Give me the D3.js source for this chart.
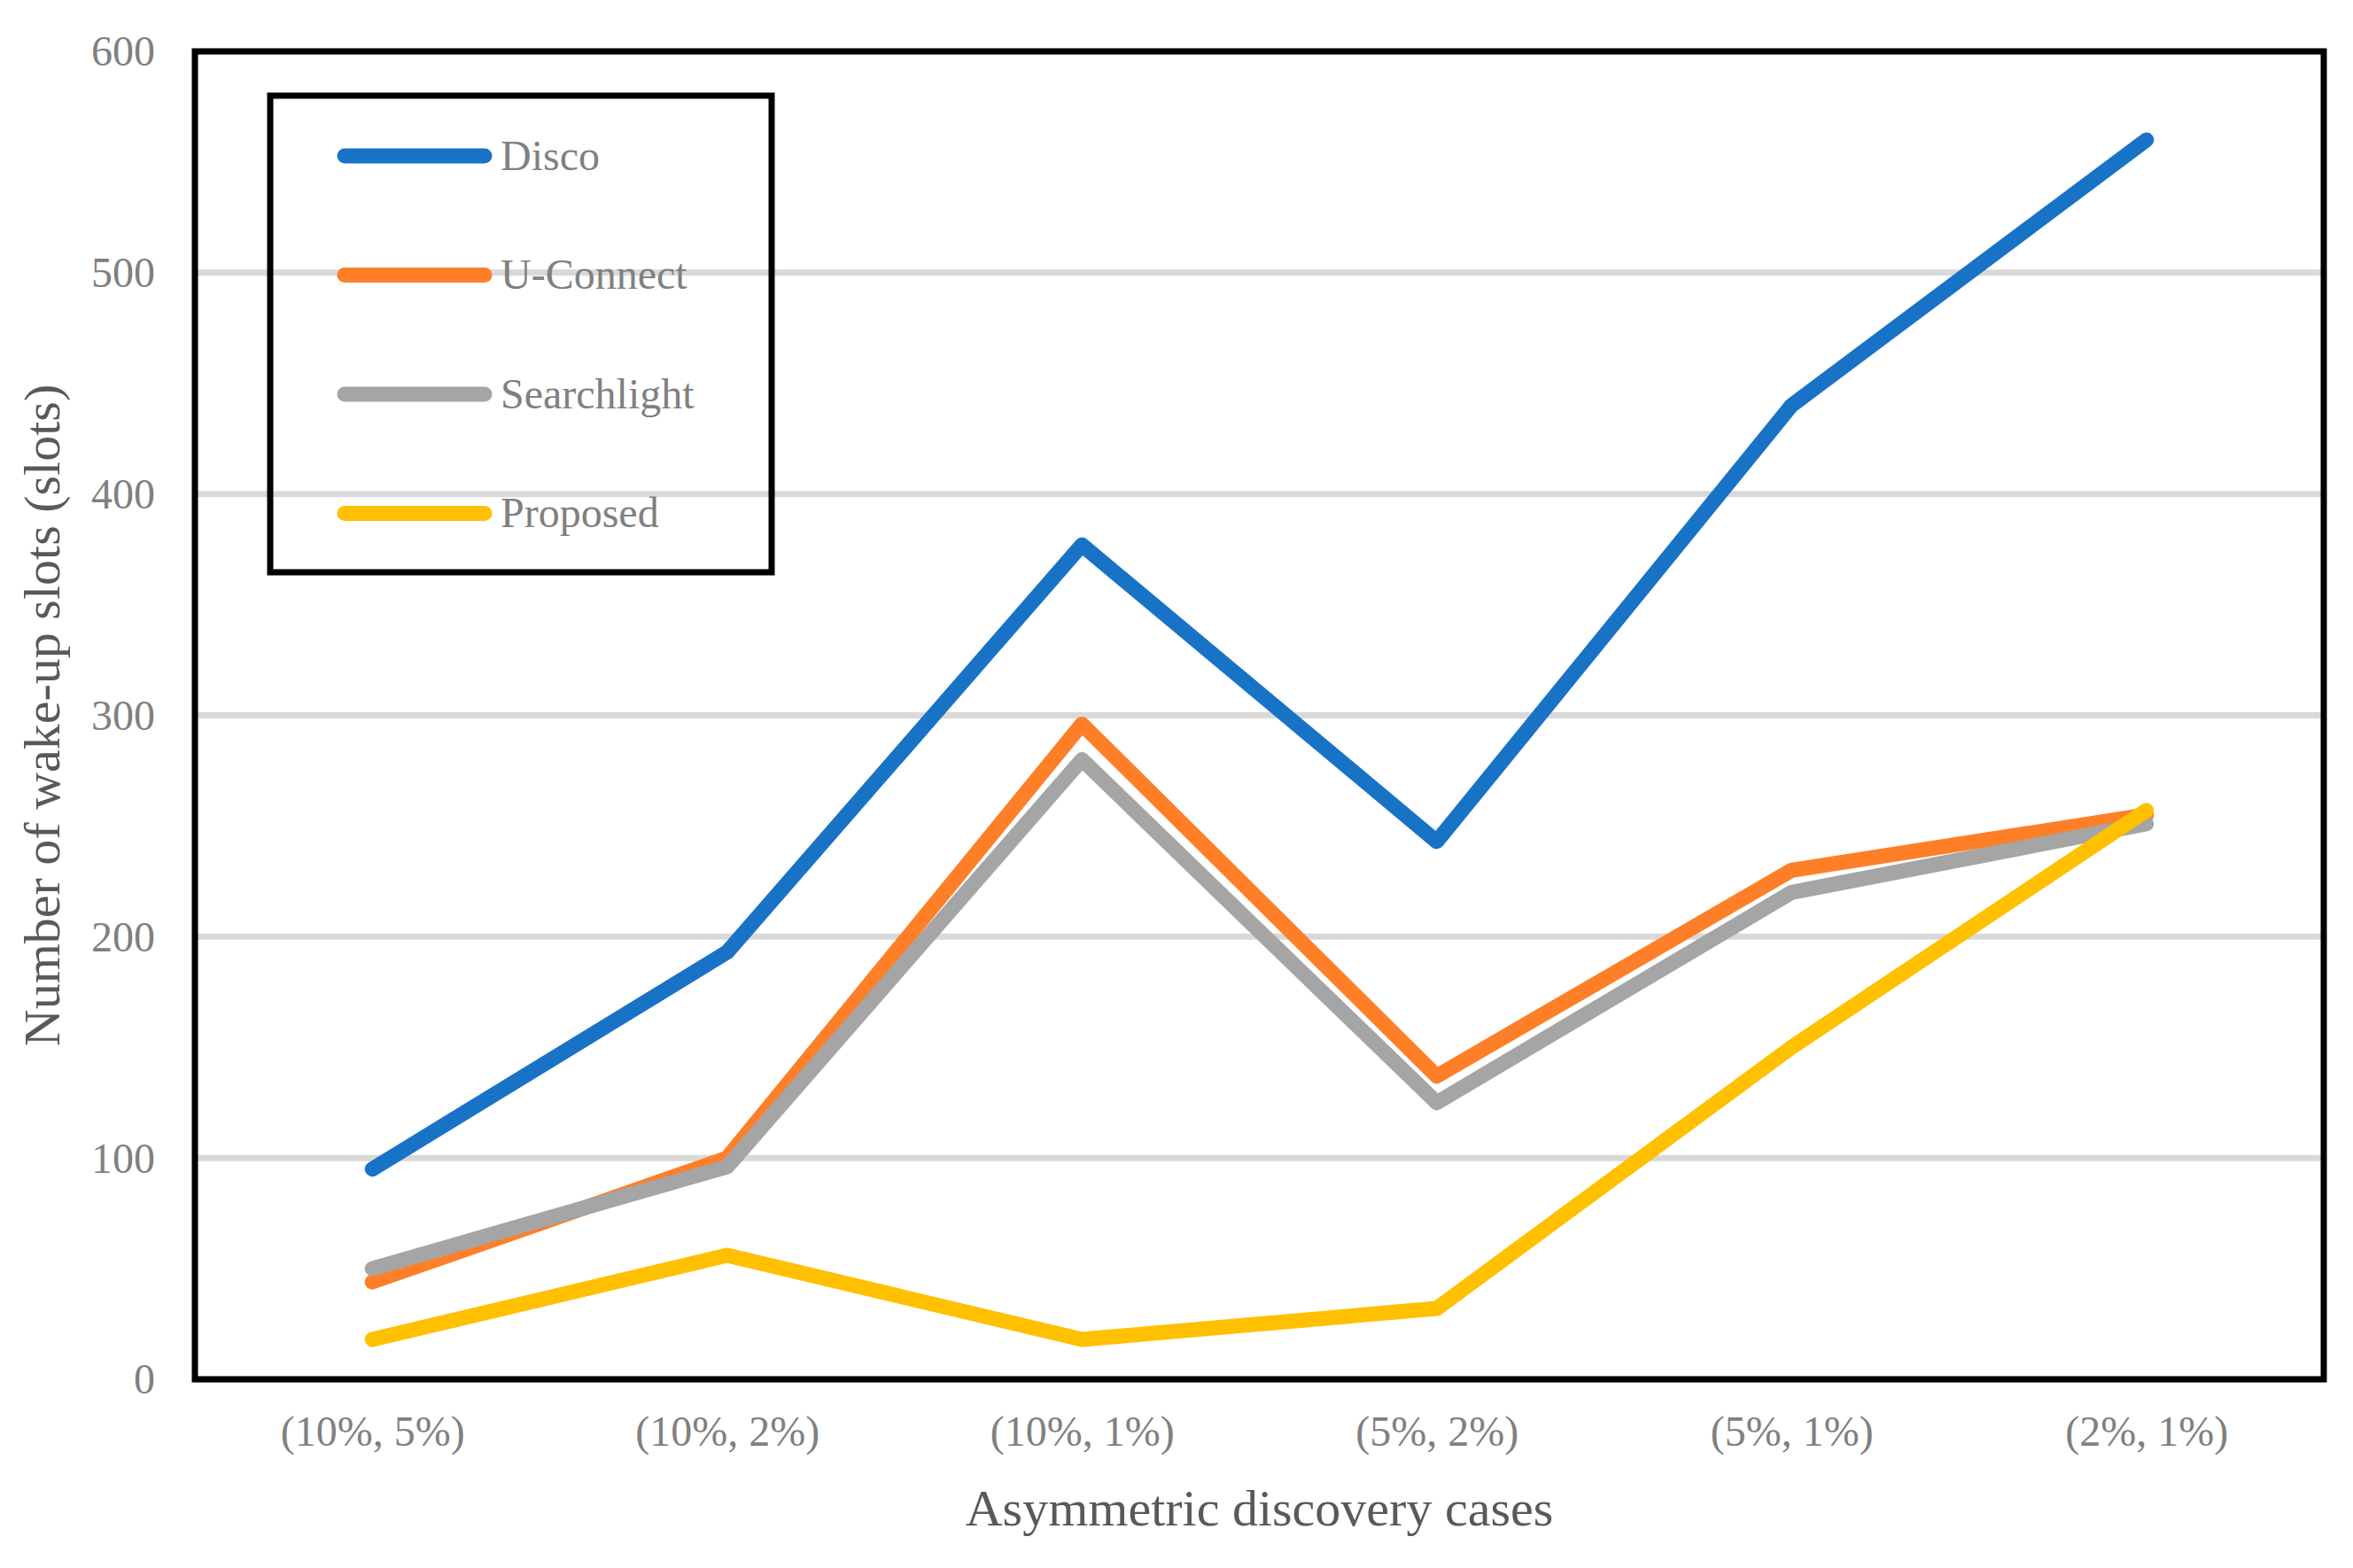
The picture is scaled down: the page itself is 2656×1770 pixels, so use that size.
<!DOCTYPE html>
<html>
<head>
<meta charset="utf-8">
<script src="https://cdn.jsdelivr.net/npm/d3@7/dist/d3.min.js"></script>
<style>
  body { margin: 0; background: #fff; }
  svg { display: block; }
</style>
</head>
<body>
<div id="chart"></div>
<script>
// categories on the x axis
var categories = ['(10%, 5%)', '(10%, 2%)', '(10%, 1%)', '(5%, 2%)', '(5%, 1%)', '(2%, 1%)'];

// series values (number of wake-up slots)
var disco = [95, 193, 377, 243, 440, 560];
var uConnect = [44, 100, 296, 137, 230, 255];
var searchlight = [50, 96, 280, 125, 220, 251];
var proposed = [18, 56, 18, 32, 150, 257];

var seriesNames = ['Disco', 'U-Connect', 'Searchlight', 'Proposed'];
var seriesColors = ['#1873C6', '#FE7F27', '#A5A5A5', '#FFC000'];

var yTicks = [0, 100, 200, 300, 400, 500, 600];

var W = 2656, H = 1770;
var margin = { top: 58, right: 33, bottom: 213, left: 220 };
var plotW = W - margin.left - margin.right;
var plotH = H - margin.top - margin.bottom;

var fontFamily = '"Liberation Serif", "Times New Roman", Times, serif';
var tickColor = '#808080';
var titleColor = '#595959';
var lineWidth = 17;

var series = [disco, uConnect, searchlight, proposed].map(function (vals, i) {
    return {
        name: seriesNames[i],
        color: seriesColors[i],
        values: vals.map(function (v, j) { return { cat: categories[j], value: v }; })
    };
});

var svg = d3.select('#chart').append('svg')
    .attr('width', W)
    .attr('height', H);

var g = svg.append('g')
    .attr('transform', 'translate(' + margin.left + ',' + margin.top + ')');

var x = d3.scalePoint()
    .domain(categories)
    .range([0, plotW])
    .padding(0.5);

var y = d3.scaleLinear()
    .domain([0, 600])
    .range([plotH, 0]);

// horizontal gridlines
g.append('g')
    .attr('class', 'grid')
    .selectAll('line')
    .data(yTicks)
    .enter()
    .append('line')
    .attr('x1', 0)
    .attr('x2', plotW)
    .attr('y1', function (d) { return y(d); })
    .attr('y2', function (d) { return y(d); })
    .attr('stroke', '#D9D9D9')
    .attr('stroke-width', 7);

// y axis labels
var yAxis = d3.axisLeft(y)
    .tickValues(yTicks)
    .tickSize(0)
    .tickPadding(45);

var gy = g.append('g').attr('class', 'y axis').call(yAxis);
gy.select('.domain').remove();
gy.selectAll('text')
    .attr('font-family', fontFamily)
    .attr('font-size', 48)
    .attr('fill', tickColor)
    .attr('dy', '0.33em');

// x axis labels
var xAxis = d3.axisBottom(x)
    .tickSize(0)
    .tickPadding(0);

var gx = g.append('g')
    .attr('class', 'x axis')
    .attr('transform', 'translate(0,' + plotH + ')')
    .call(xAxis);
gx.select('.domain').remove();
gx.selectAll('text')
    .attr('font-family', fontFamily)
    .attr('font-size', 48)
    .attr('fill', tickColor)
    .attr('y', 75)
    .attr('dy', 0);

// series lines
var line = d3.line()
    .x(function (d) { return x(d.cat); })
    .y(function (d) { return y(d.value); });

g.append('g')
    .attr('class', 'lines')
    .selectAll('path')
    .data(series)
    .enter()
    .append('path')
    .attr('d', function (d) { return line(d.values); })
    .attr('fill', 'none')
    .attr('stroke', function (d) { return d.color; })
    .attr('stroke-width', lineWidth)
    .attr('stroke-linecap', 'round')
    .attr('stroke-linejoin', 'round');

// plot frame
g.append('rect')
    .attr('x', 0)
    .attr('y', 0)
    .attr('width', plotW)
    .attr('height', plotH)
    .attr('fill', 'none')
    .attr('stroke', '#000')
    .attr('stroke-width', 7);

// axis titles
svg.append('text')
    .attr('x', margin.left + plotW / 2)
    .attr('y', 1722)
    .attr('text-anchor', 'middle')
    .attr('font-family', fontFamily)
    .attr('font-size', 58)
    .attr('fill', titleColor)
    .text('Asymmetric discovery cases');

svg.append('text')
    .attr('transform', 'translate(47,' + (margin.top + plotH / 2) + ') rotate(-90)')
    .attr('text-anchor', 'middle')
    .attr('dy', '0.35em')
    .attr('font-family', fontFamily)
    .attr('font-size', 58)
    .attr('fill', titleColor)
    .text('Number of wake-up slots (slots)');

// legend
var legend = svg.append('g').attr('class', 'legend');
legend.append('rect')
    .attr('x', 305)
    .attr('y', 108)
    .attr('width', 566)
    .attr('height', 538)
    .attr('fill', 'none')
    .attr('stroke', '#000')
    .attr('stroke-width', 7);

var items = legend.selectAll('.item')
    .data(series)
    .enter()
    .append('g')
    .attr('class', 'item')
    .attr('transform', function (d, i) { return 'translate(0,' + (176 + i * 134.5) + ')'; });

items.append('line')
    .attr('x1', 389)
    .attr('x2', 547)
    .attr('y1', 0)
    .attr('y2', 0)
    .attr('stroke', function (d) { return d.color; })
    .attr('stroke-width', lineWidth)
    .attr('stroke-linecap', 'round');

items.append('text')
    .attr('x', 565)
    .attr('y', 0)
    .attr('dy', '0.33em')
    .attr('font-family', fontFamily)
    .attr('font-size', 48)
    .attr('fill', tickColor)
    .text(function (d) { return d.name; });
</script>
</body>
</html>
